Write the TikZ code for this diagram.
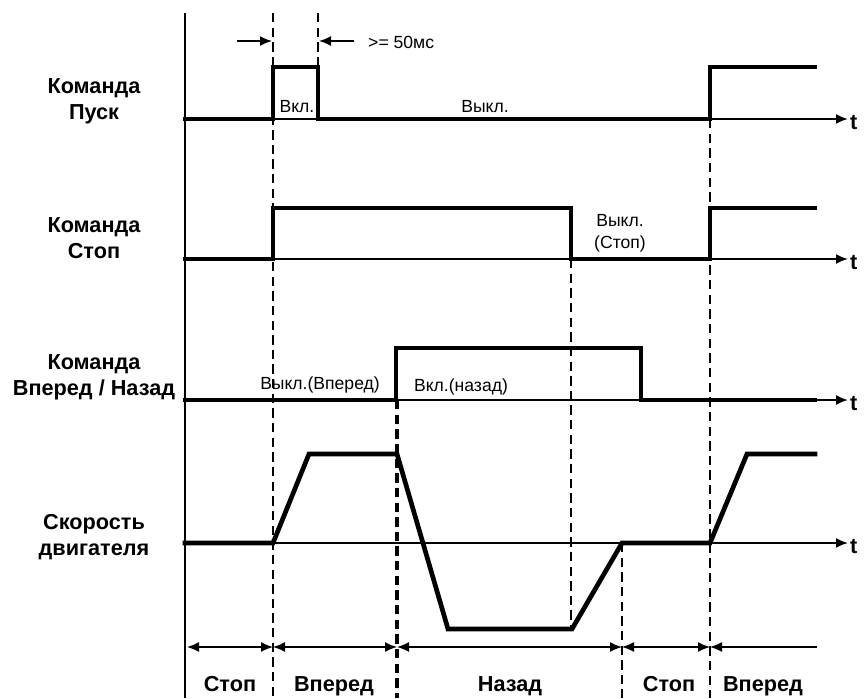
\documentclass[tikz,border=0pt]{standalone}
\usepackage{fontspec}
\setmainfont{Liberation Sans}
\usetikzlibrary{arrows.meta}
\tikzset{
  sig/.style={line width=4pt, line join=miter, line cap=rect},
  axisline/.style={line width=1.6pt, -{Latex[length=3.6mm, width=3mm]}},
  guide/.style={line width=1.6pt, dash pattern=on 8pt off 4.5pt},
  guidebold/.style={line width=2.8pt, dash pattern=on 8pt off 4.5pt},
  dim/.style={line width=1.3pt},
  lbl/.style={font=\fontsize{18.5}{22}\selectfont\bfseries, align=center, inner sep=0pt},
  note/.style={font=\fontsize{15}{19}\selectfont, align=center, inner sep=0pt},
}

\begin{document}
\begin{tikzpicture}[x=0.03cm, y=-0.03cm]
\useasboundingbox (0,0) rectangle (866,698);

% ========== Ось ==========
\draw[line width=1.6pt] (185,13) -- (185,698);

% ========== Подписи сигналов ==========
\node[lbl] (pusk)  at (94,101) {Команда\\Пуск};
\node[lbl] (stop)  at (94,238) {Команда\\Стоп};
\node[lbl] (napr)  at (94,377) {Команда\\Вперед / Назад};
\node[lbl] (speed) at (94,537) {Скорость\\двигателя};

% ========== Оси времени ==========
\foreach \yy/\nm in {119/tA, 259/tB, 400/tC, 543/tD} {
  \draw[axisline] (185,\yy) -- (848,\yy);
  \node[lbl, anchor=west] (\nm) at (850,\yy+4) {t};
}

% ========== Пунктирные линии ==========
\draw[guide] (273,13) -- (273,698);
\draw[guide] (318,13) -- (318,66);
\draw[guidebold] (397,400) -- (397,698);
\draw[guide] (571,259) -- (571,630);
\draw[guide] (622,543) -- (622,698);
\draw[guide] (710,119) -- (710,698);

% ========== Сигналы ==========
% Пуск
\draw[sig] (185,119) -- (273,119) -- (273,67) -- (318,67) -- (318,119) -- (710,119) -- (710,67) -- (815,67);
% Стоп
\draw[sig] (185,259) -- (273,259) -- (273,208) -- (571,208) -- (571,259) -- (710,259) -- (710,208) -- (815,208);
% Вперед / Назад
\draw[sig] (185,400) -- (396,400) -- (396,348) -- (641,348) -- (641,400) -- (815,400);
% Скорость
\draw[sig] (185,543) -- (273,543) -- (309,454) -- (397,454) -- (448,629) -- (572,629) -- (622,543) -- (710,543) -- (747,454) -- (815,454);

% ========== Подписи состояний ==========
\node[note] (vkl)     at (297,107) {Вкл.};
\node[note] (vykl)    at (485,107) {Выкл.};
\node[note] (vyklst)  at (620,233) {Выкл.\\(Стоп)};
\node[note] (vpered)  at (320,385) {Выкл.(Вперед)};
\node[note] (nazad)   at (461,387) {Вкл.(назад)};

% ========== >= 50 мс ==========
\draw[line width=1.5pt, -{Latex[length=3.6mm, width=3mm]}] (237,41) -- (272,41);
\draw[line width=1.5pt, -{Latex[length=3.6mm, width=3mm]}] (354,41) -- (319,41);
\node[note, anchor=west] (ms) at (368,42) {>= 50мс};

% ========== Интервалы ==========
\foreach \xa/\xb in {187/273, 273/397, 397/622, 622/710}
  \draw[dim, {Latex[length=3.6mm, width=3mm]}-{Latex[length=3.6mm, width=3mm]}] (\xa,647) -- (\xb,647);
\draw[dim, {Latex[length=3.6mm, width=3mm]}-] (710,647) -- (817,647);

\node[lbl, anchor=base] (i1) at (230,691) {Стоп};
\node[lbl, anchor=base] (i2) at (334,691) {Вперед};
\node[lbl, anchor=base] (i3) at (510,691) {Назад};
\node[lbl, anchor=base] (i4) at (669,691) {Стоп};
\node[lbl, anchor=base] (i5) at (763,691) {Вперед};

\end{tikzpicture}
\end{document}
